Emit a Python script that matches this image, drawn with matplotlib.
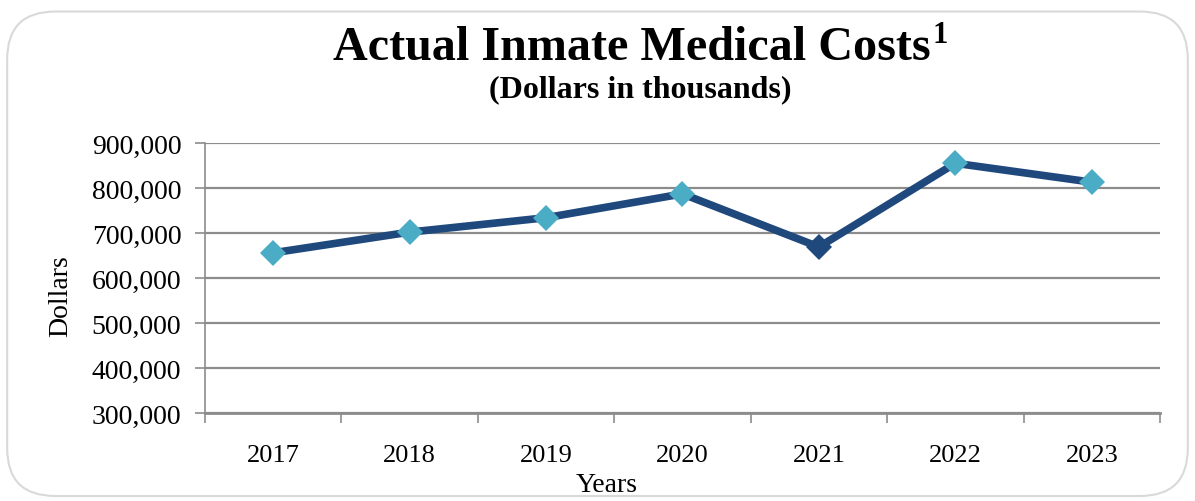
import matplotlib
matplotlib.use("Agg")
import matplotlib.pyplot as plt
from matplotlib.patches import FancyBboxPatch
from matplotlib.ticker import FuncFormatter, FixedLocator

years = ["2017", "2018", "2019", "2020", "2021", "2022", "2023"]
costs = [656000, 702000, 734000, 787000, 669000, 855000, 813000]
y_ticks = [300000, 400000, 500000, 600000, 700000, 800000, 900000]

plt.rcParams['font.family'] = ['Liberation Serif', 'DejaVu Serif']

fig = plt.figure(figsize=(11.95, 5.02), dpi=100)
fig.patch.set_facecolor('white')

border = FancyBboxPatch((0.006, 0.01), 0.988, 0.965,
                        boxstyle="round,pad=0,rounding_size=0.04",
                        transform=fig.transFigure, facecolor='none',
                        edgecolor='#d9d9d9', linewidth=1.5, zorder=-1,
                        mutation_aspect=1195/502)
fig.patches.append(border)

ax = fig.add_axes([0.1715, 0.1753, 0.7992, 0.5378])
ax.set_facecolor('none')

x = list(range(len(years)))
ax.plot(x, costs, color='#1f497d', linewidth=5.5, zorder=3, solid_capstyle='round')
marker_colors = ['#4bacc6'] * len(years)
marker_colors[4] = '#1f497d'
for xi, yi, c in zip(x, costs, marker_colors):
    ax.plot([xi], [yi], marker='D', markersize=13, color=c, markeredgewidth=0, zorder=4)

ax.set_ylim(300000, 900000)
ax.set_xlim(-0.5, len(years) - 0.5)
ax.yaxis.set_major_locator(FixedLocator(y_ticks))
ax.yaxis.set_major_formatter(FuncFormatter(lambda v, p: f"{int(v):,}"))
ax.grid(axis='y', color='#8c8c8c', linewidth=1.6, zorder=1)
ax.set_axisbelow(True)

ax.set_xticks(x)
ax.set_xticklabels(years)
ax.set_xticks([i - 0.5 for i in range(len(years) + 1)], minor=True)
ax.tick_params(axis='x', which='major', length=0, pad=22, labelsize=19)
ax.tick_params(axis='x', which='minor', length=7, width=1.2, color='#8c8c8c', direction='out')
ax.tick_params(axis='y', which='major', length=7, width=1.2, color='#8c8c8c', pad=10, labelsize=20)

for s in ['top', 'right']:
    ax.spines[s].set_visible(False)
ax.spines['left'].set_color('#8c8c8c')
ax.spines['left'].set_linewidth(1.2)
ax.spines['bottom'].set_color('#8c8c8c')
ax.spines['bottom'].set_linewidth(2)

ax.set_xlabel("Years", fontsize=20, va='center')
ax.set_ylabel("Dollars", fontsize=20, va='center')
ax.xaxis.set_label_coords(0.421, -0.263)
ax.yaxis.set_label_coords(-0.151, 0.437)

t = fig.text(0.529, 0.88, "Actual Inmate Medical Costs", fontsize=34.7, fontweight='bold',
             ha='center', va='baseline')
fig.canvas.draw()
bb = t.get_window_extent()
fig.text(bb.x1 / fig.bbox.width + 0.001, 0.915, "1", fontsize=22, fontweight='bold',
         ha='left', va='baseline')
fig.text(0.5356, 0.807, "(Dollars in thousands)", fontsize=23, fontweight='bold',
         ha='center', va='baseline')

fig.savefig("out.png", dpi=100, facecolor='white')
